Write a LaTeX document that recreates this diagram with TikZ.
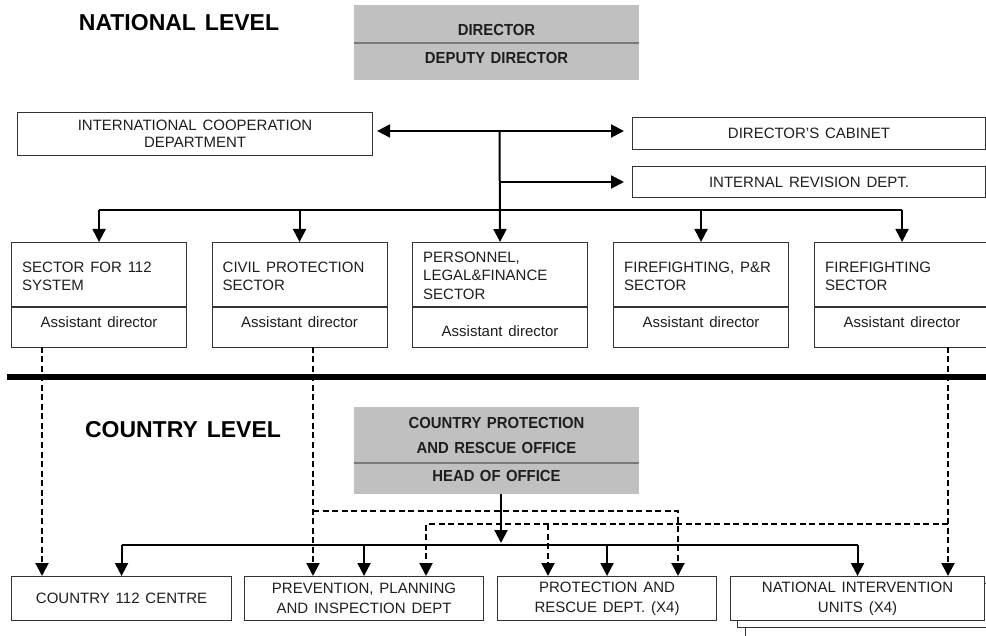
\documentclass[tikz,border=0pt]{standalone}
\usepackage{fontspec}
\setmainfont{Liberation Sans}[WordSpace=1.4]
\newfontfamily\condbold{Liberation Sans}[FakeStretch=0.93,WordSpace=1.3]
\usetikzlibrary{arrows.meta}
\definecolor{txtc}{HTML}{1E1E1E}
\definecolor{boxgray}{HTML}{C0C0C0}
\definecolor{divgray}{HTML}{7A7A7A}
\tikzset{
  box/.style={draw=black!80, line width=1.1pt, fill=white, inner sep=0pt, anchor=north west},
  graybox/.style={fill=boxgray, draw=none, inner sep=0pt, anchor=north west},
  divider/.style={draw=divgray, line width=2pt},
  txt/.style={font=\fontsize{15}{18}\selectfont, text=txtc, inner sep=0pt},
  hdr/.style={font=\fontsize{23}{26}\selectfont\bfseries, text=black, inner sep=0pt},
  gtxt/.style={font=\fontsize{16}{18}\condbold\bfseries, text=txtc, inner sep=0pt},
  conn/.style={line width=2pt},
  arr/.style={conn, -{Triangle[length=13pt,width=13pt]}},
  dsh/.style={line width=2pt, dash pattern=on 6pt off 3.5pt},
  darr/.style={dsh, -{Triangle[length=13pt,width=13pt]}},
  thick line/.style={line width=5.5pt}
}
\begin{document}
\begin{tikzpicture}[x=1pt,y=-1pt]
\clip (0,0) rectangle (986,636);
\fill[white] (0,0) rectangle (986,636);

% ---------- NATIONAL LEVEL ----------
\node[hdr] (natl) at (179,23) {NATIONAL LEVEL};

\node[graybox, minimum width=285pt, minimum height=75pt] (dir) at (354,5) {};
\draw[divider] (354,43) -- (639,43);
\node[gtxt] (dirt) at (496.5,30) {DIRECTOR};
\node[gtxt] (dept) at (496.5,58) {DEPUTY DIRECTOR};

\node[box, minimum width=355pt, minimum height=43pt] (ic) at (17,112) {};
\node[txt, align=center, font=\fontsize{15}{17}\selectfont] (ict) at (ic.center) {INTERNATIONAL COOPERATION\\DEPARTMENT};

\node[box, minimum width=353pt, minimum height=32pt] (cab) at (632,117) {};
\node[txt] (cabt) at (cab.center) {DIRECTOR'S CABINET};

\node[box, minimum width=353pt, minimum height=31pt] (ir) at (632,166) {};
\node[txt] (irt) at (ir.center) {INTERNAL REVISION DEPT.};

% sector boxes
\node[box, minimum width=175pt, minimum height=105pt] (s1) at (11,242) {};
\node[box, minimum width=175pt, minimum height=105pt] (s2) at (211.5,242) {};
\node[box, minimum width=175pt, minimum height=105pt] (s3) at (412,242) {};
\node[box, minimum width=175pt, minimum height=105pt] (s4) at (613,242) {};
\node[box, minimum width=175pt, minimum height=105pt] (s5) at (814,242) {};
\foreach \n in {s1,s2,s3,s4,s5}{
  \draw[black!80, line width=1.1pt] (\n.west |- 0,307) -- (\n.east |- 0,307);
}
\node[txt, anchor=west, align=left] (s1t) at (22,276) {SECTOR FOR 112\\SYSTEM};
\node[txt, anchor=west, align=left] (s2t) at (222.5,276) {CIVIL PROTECTION\\SECTOR};
\node[txt, anchor=west, align=left, font=\fontsize{15}{18.5}\selectfont] (s3t) at (423,275.5) {PERSONNEL,\\LEGAL\&FINANCE\\SECTOR};
\node[txt, anchor=west, align=left] (s4t) at (624,276) {FIREFIGHTING, P\&R\\SECTOR};
\node[txt, anchor=west, align=left] (s5t) at (825,276) {FIREFIGHTING\\SECTOR};
\node[txt] (s1a) at (s1.center |- 0,322) {Assistant director};
\node[txt] (s2a) at (s2.center |- 0,322) {Assistant director};
\node[txt] (s3a) at (s3.center |- 0,331) {Assistant director};
\node[txt] (s4a) at (s4.center |- 0,322) {Assistant director};
\node[txt] (s5a) at (s5.center |- 0,322) {Assistant director};

% national connectors
\coordinate (J1) at (499.5,131);
\coordinate (J2) at (499.5,182);
\coordinate (B1) at (499.5,210);
\draw[conn, {Triangle[length=13pt,width=13pt]}-{Triangle[length=13pt,width=13pt]}, shorten <=4pt, shorten >=8pt] (ic.east |- J1) -- (cab.west |- J1);
\draw[arr] (J1) -- (s3.north);
\draw[arr, shorten >=8pt] (J2) -- (ir.west |- J2);
\draw[conn] (s1.north |- B1) -- (s5.north |- B1);
\foreach \n in {s1,s2,s4,s5}{
  \draw[arr] (\n.north |- B1) -- (\n.north);
}

% separator
\draw[thick line] (7,377) -- (986,377);

% ---------- COUNTRY LEVEL ----------
\node[hdr] (ctry) at (183,430) {COUNTRY LEVEL};

\node[graybox, minimum width=285pt, minimum height=87pt] (cp) at (354,407) {};
\draw[divider] (354,463) -- (639,463);
\node[gtxt] (cpt1) at (496.5,423) {COUNTRY PROTECTION};
\node[gtxt] (cpt2) at (496.5,448) {AND RESCUE OFFICE};
\node[gtxt] (cpt3) at (496.5,476) {HEAD OF OFFICE};

% bottom boxes
\node[box, minimum width=260pt, minimum height=60pt] (ni3) at (745,590) {};
\node[box, minimum width=260pt, minimum height=44pt] (ni2) at (737,583) {};
\node[box, minimum width=220pt, minimum height=44pt] (c1) at (11,576) {};
\node[box, minimum width=239pt, minimum height=44pt] (pv) at (244,576) {};
\node[box, minimum width=219pt, minimum height=44pt] (pr) at (497,576) {};
\node[box, minimum width=254pt, minimum height=44pt] (ni) at (730,576) {};
\node[txt] (c1t) at (c1.center) {COUNTRY 112 CENTRE};
\node[txt, align=center, font=\fontsize{15}{20}\selectfont] (pvt) at (pv.center) {PREVENTION, PLANNING\\AND INSPECTION DEPT};
\node[txt, align=center, font=\fontsize{15}{20}\selectfont] (prt) at (pr.center) {PROTECTION AND\\RESCUE DEPT. (X4)};
\node[txt, align=center, font=\fontsize{15}{20}\selectfont] (nit) at (ni.center) {NATIONAL INTERVENTION\\UNITS (X4)};

% country solid connectors
\coordinate (B2) at (501,545);
\draw[arr, shorten >=2pt] (cp.south -| B2) -- (B2);
\draw[conn] (c1.north |- B2) -- (ni.north |- B2);
\foreach \n in {c1,pv,pr,ni}{
  \draw[arr] (\n.north |- B2) -- (\n.north);
}

% dashed connectors
\coordinate (D1) at (42,347);
\coordinate (D2) at (313,347);
\coordinate (D5) at (948,347);
\coordinate (E1) at (678,511);
\coordinate (E2) at (426,524);
\coordinate (E3) at (548,524);
\draw[darr] (D1) -- (D1 |- c1.north);
\draw[darr] (D2) -- (D2 |- pv.north);
\draw[darr] (D2 |- E1) -- (E1) -- (E1 |- pr.north);
\draw[darr] (D5) -- (D5 |- ni.north);
\draw[darr] (D5 |- E2) -- (E2) -- (E2 |- pv.north);
\draw[darr] (E3) -- (E3 |- pr.north);
\end{tikzpicture}
\end{document}
